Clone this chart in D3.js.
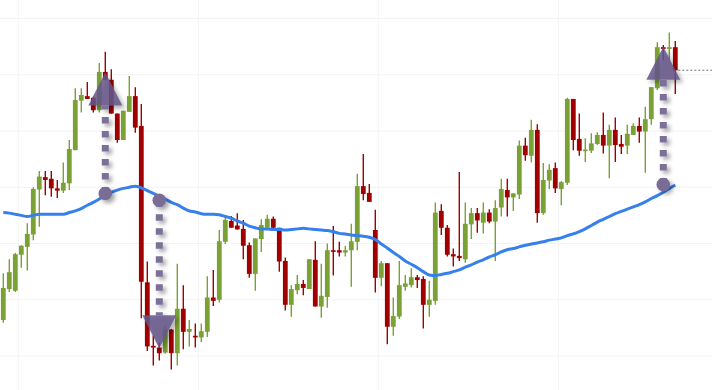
<!DOCTYPE html>
<html>
<head>
<meta charset="utf-8">
<script src="https://cdn.jsdelivr.net/npm/d3@7"></script>
<style>
  html, body { margin: 0; padding: 0; background: #fff; }
  svg { display: block; }
</style>
</head>
<body>
<svg id="chart" width="712" height="390"></svg>
<script>
// OHLC per bar
const opens = [106.4,111.9,111.6,118.0,119.4,121.6,129.6,131.8,131.5,129.8,129.4,130.7,136.6,145.4,146.2,145.9,143.7,150.5,149.1,143.1,
  138.4,143.4,146.2,140.9,113.1,101.8,101.5,100.6,104.7,100.5,108.4,104.3,103.6,103.3,104.3,110.4,110.0,120.3,124.0,123.2,
  122.6,119.7,114.6,120.8,122.8,124.4,122.8,116.9,109.1,111.7,112.8,111.9,117.1,108.8,110.5,118.8,118.8,118.4,118.8,120.3,
  130.2,129.0,122.4,113.9,116.5,105.2,107.0,112.3,112.6,114.0,113.7,109.1,109.8,125.8,122.8,118.1,117.8,117.2,123.4,125.4,
  123.7,125.5,123.9,126.4,129.5,128.2,128.7,137.4,135.6,140.2,125.4,131.2,133.4,129.7,130.8,145.7,138.6,136.5,136.5,137.7,
  139.3,137.4,140.2,137.7,137.4,139.3,140.9,139.9,142.1,147.6,154.9,154.6,154.9];
const highs = [114.7,117.2,118.3,119.7,123.6,130.0,132.9,132.9,132.9,131.3,134.4,138.4,147.6,147.6,148.7,146.1,152.1,154.1,151.0,143.1,
  143.6,149.8,147.8,144.8,116.8,103.7,102.3,105.3,104.8,116.4,112.6,106.4,105.8,105.8,114.2,115.3,122.4,124.9,124.9,125.4,
  124.2,120.2,120.9,124.3,125.1,124.8,122.8,117.5,112.6,114.4,113.5,117.2,120.4,116.4,120.0,123.1,120.3,119.6,123.5,132.4,
  135.9,130.6,126.0,116.9,116.5,110.4,116.9,114.4,115.6,114.4,114.2,113.4,127.3,127.0,123.3,119.1,132.7,127.3,126.3,126.3,
  127.3,126.1,127.7,131.5,131.5,129.0,138.3,138.8,142.0,141.2,134.3,134.1,134.4,131.1,145.9,145.7,143.1,138.7,139.6,139.8,
  143.3,141.1,142.4,139.3,141.1,141.4,142.4,144.3,147.8,155.8,155.3,157.5,156.0];
const lows = [105.9,111.4,111.4,115.7,115.2,120.6,123.0,128.6,128.3,128.1,129.0,129.5,136.6,143.3,145.7,143.3,143.3,149.0,143.1,137.9,
  138.4,143.4,139.7,106.7,100.9,98.3,99.2,100.4,97.6,98.3,101.2,101.7,101.5,102.5,103.4,108.9,109.5,119.9,122.8,122.5,
  117.2,113.9,111.6,118.5,122.8,122.7,115.0,108.1,107.0,111.0,110.8,111.9,108.8,106.8,108.6,114.3,117.7,117.7,112.3,118.8,
  127.7,127.4,111.3,112.4,102.1,103.6,106.6,111.6,112.2,112.1,104.9,107.0,109.1,121.5,117.7,115.9,116.9,116.6,120.8,121.9,
  121.8,123.6,116.9,124.8,124.8,125.8,127.9,134.7,134.4,123.7,125.1,129.7,129.0,126.8,130.4,136.6,135.6,134.5,136.1,137.5,
  136.0,131.6,134.5,135.9,135.9,139.3,137.9,132.6,141.1,147.3,152.6,152.6,146.6];
const closes = [112.1,114.9,118.1,119.6,121.7,129.7,131.9,131.3,129.8,129.4,130.8,136.8,145.5,146.4,145.7,143.7,150.5,149.1,143.1,138.4,
  143.6,146.2,140.6,113.2,101.7,101.5,100.5,104.7,100.5,108.4,104.3,104.8,103.3,104.4,110.4,109.8,120.4,124.2,122.8,122.5,
  119.6,114.6,120.9,123.3,124.4,122.8,116.8,109.1,111.9,112.8,112.1,117.2,108.8,110.7,118.8,118.7,118.4,118.8,120.4,130.2,
  128.8,127.4,113.9,116.5,105.2,107.1,112.6,112.9,114.0,113.5,109.1,110.0,125.5,122.8,118.0,117.7,117.4,123.5,125.4,124.1,
  125.5,123.9,126.3,129.7,128.2,128.9,137.4,135.7,140.2,125.4,131.3,133.1,129.8,130.9,145.7,138.4,136.5,136.7,137.8,139.3,
  137.4,140.2,137.5,137.2,139.5,140.9,139.9,142.1,147.8,154.9,154.6,154.9,150.8];

// moving average at each bar
const movingAvg = [125.5,125.4,125.2,125.0,124.8,125.0,125.2,125.2,125.2,125.2,125.2,125.5,125.8,126.2,126.8,127.3,127.9,128.6,129.1,129.5,
  129.8,130.0,130.2,129.9,129.4,128.9,128.4,127.9,127.3,126.9,126.3,125.8,125.6,125.3,125.2,125.2,125.1,124.8,124.5,124.0,
  123.6,123.1,122.8,122.6,122.6,122.5,122.5,122.4,122.5,122.6,122.7,122.6,122.5,122.4,122.3,122.1,121.8,121.7,121.5,121.4,
  121.3,121.1,120.7,119.9,119.2,118.4,117.7,116.9,116.3,115.7,115.0,114.4,114.3,114.5,114.7,115.0,115.3,115.8,116.2,116.7,
  117.1,117.6,118.0,118.5,118.9,119.1,119.4,119.7,119.9,120.1,120.3,120.6,120.8,121.0,121.4,121.7,122.1,122.6,123.2,123.8,
  124.3,124.8,125.3,125.7,126.1,126.5,126.9,127.4,128.0,128.5,129.1,129.8,130.4];

// signal arrows: bar index, start price (dot), target price (arrow tip)
const signalIndex = [17, 26, 110];
const signalFrom = [128.9, 127.7, 130.5];
const signalTo = [150.4, 101.4, 155.0];

const priceTicks = [100, 110, 120, 130, 140, 150, 160];
const timeTicks = [2.5, 32.5, 62.5, 92.5];

const svg = d3.select("#chart");
const width = +svg.attr("width");
const height = +svg.attr("height");

const x = d3.scaleLinear().domain([-0.55, 118.117]).range([0, width]);
const y = d3.scaleLinear().domain([100, 160]).range([356, 18.5]);

const green = "#7aa133";
const red = "#a00000";

const defs = svg.append("defs");
const filter = defs.append("filter").attr("id", "shadow")
  .attr("x", "-50%").attr("y", "-50%").attr("width", "200%").attr("height", "200%");
filter.append("feDropShadow")
  .attr("dx", 3).attr("dy", 3).attr("stdDeviation", 2)
  .attr("flood-color", "#000").attr("flood-opacity", 0.35);

// grid
const grid = svg.append("g").attr("stroke", "#f3f3f3").attr("stroke-width", 1);
grid.selectAll(".h").data(priceTicks).join("line").attr("class", "h")
  .attr("x1", 0).attr("x2", width)
  .attr("y1", d => y(d)).attr("y2", d => y(d));
grid.selectAll(".v").data(timeTicks).join("line").attr("class", "v")
  .attr("x1", d => x(d)).attr("x2", d => x(d))
  .attr("y1", 0).attr("y2", height);

// candles
const bars = opens.map((o, i) => ({ i, o, h: highs[i], l: lows[i], c: closes[i] }));
const candle = svg.append("g").selectAll("g").data(bars).join("g");
candle.append("line")
  .attr("x1", d => x(d.i)).attr("x2", d => x(d.i))
  .attr("y1", d => y(d.h)).attr("y2", d => y(d.l))
  .attr("stroke", d => d.c >= d.o ? green : red)
  .attr("stroke-width", 1.4);
candle.append("rect")
  .attr("x", d => x(d.i) - 2.4)
  .attr("width", 4.8)
  .attr("y", d => y(Math.max(d.o, d.c)))
  .attr("height", d => Math.max(1.6, Math.abs(y(d.o) - y(d.c))))
  .attr("fill", d => d.c >= d.o ? green : red);

// moving average
const line = d3.line().x((d, i) => x(i)).y(d => y(d)).curve(d3.curveMonotoneX);
svg.append("path").datum(movingAvg)
  .attr("d", line)
  .attr("fill", "none")
  .attr("stroke", "#3580ea")
  .attr("stroke-width", 3);

// last price marker
const last = closes.length - 1;
svg.append("line")
  .attr("x1", x(last) + 3).attr("x2", width)
  .attr("y1", y(closes[last])).attr("y2", y(closes[last]))
  .attr("stroke", "#777").attr("stroke-width", 1)
  .attr("stroke-dasharray", "2,2");

// signal arrows
signalIndex.forEach((idx, k) => {
  const cx = x(idx);
  const y0 = y(signalFrom[k]);
  const tip = y(signalTo[k]);
  const dir = tip < y0 ? 1 : -1;   // 1 = arrow points up
  const base = tip + dir * 33;
  const g = svg.append("g").attr("filter", "url(#shadow)");
  g.append("line")
    .attr("x1", cx).attr("x2", cx)
    .attr("y1", y0).attr("y2", base)
    .attr("stroke", "#7d7098").attr("stroke-width", 7)
    .attr("stroke-dasharray", "6.5,7.5");
  g.append("circle")
    .attr("cx", cx).attr("cy", y0).attr("r", 6.8)
    .attr("fill", "#7a6d95");
  g.append("path")
    .attr("d", `M${cx},${tip}L${cx + 17},${base}L${cx - 17},${base}Z`)
    .attr("fill", "#65568a").attr("fill-opacity", 0.85);
});
</script>
</body>
</html>
